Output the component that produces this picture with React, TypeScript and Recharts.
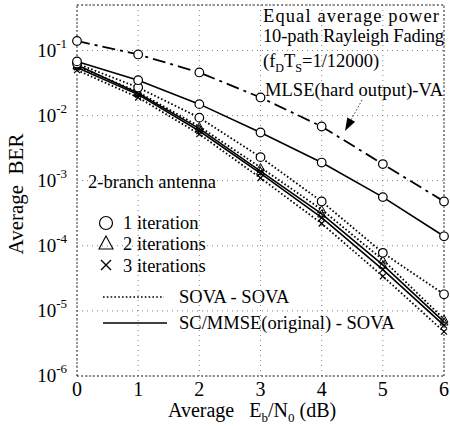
import React from "react";
import {
  LineChart,
  Line,
  XAxis,
  YAxis,
  CartesianGrid,
  ReferenceLine,
} from "recharts";

// Eb/N0 (dB) and BER values
const EBN0 = [0, 1, 2, 3, 4, 5, 6];
const MLSE_VA = [0.14, 0.087, 0.046, 0.019, 0.0068, 0.0018, 0.00048];
const SC_IT1 = [0.068, 0.035, 0.015, 0.0055, 0.0019, 0.00056, 0.00014];
const SOVA_IT1 = [0.063, 0.027, 0.0093, 0.0023, 0.00048, 0.000078, 0.000018];
const SOVA_IT2 = [0.058, 0.023, 0.0068, 0.0016, 0.00036, 0.000061, 0.0000075];
const SC_IT2 = [0.06, 0.022, 0.0063, 0.0014, 0.00031, 0.000051, 0.0000068];
const SC_IT3 = [0.055, 0.021, 0.0058, 0.0013, 0.00027, 0.000043, 0.000006];
const SOVA_IT3 = [0.05, 0.019, 0.0052, 0.0011, 0.00022, 0.000034, 0.0000048];

const Y_TICKS = [1e-6, 1e-5, 1e-4, 1e-3, 1e-2, 1e-1];
const Y_TOP = 0.5;

const data = EBN0.map((x, i) => ({
  x,
  mlse: MLSE_VA[i],
  sc1: SC_IT1[i],
  sova1: SOVA_IT1[i],
  sc2: SC_IT2[i],
  sc3: SC_IT3[i],
  sova2: SOVA_IT2[i],
  sova3: SOVA_IT3[i],
}));

const FONT = "'Liberation Serif', 'DejaVu Serif', serif";
const DOTTED = "1.6 2.2";
const DASHDOT = "13 5 3 5";

function circleDot(p: any) {
  return (
    <circle key={`c-${p.dataKey}-${p.index}`} cx={p.cx} cy={p.cy} r={4.3} fill="#fff" stroke="#000" strokeWidth={1.2} />
  );
}

function triDot(p: any) {
  const s = 4;
  return (
    <path
      key={`t-${p.dataKey}-${p.index}`}
      d={`M${p.cx},${p.cy - s}L${p.cx + s},${p.cy + s * 0.8}L${p.cx - s},${p.cy + s * 0.8}Z`}
      fill="none"
      stroke="#000"
      strokeWidth={1}
    />
  );
}

function crossDot(p: any) {
  const s = 3;
  return (
    <path
      key={`x-${p.dataKey}-${p.index}`}
      d={`M${p.cx - s},${p.cy - s}L${p.cx + s},${p.cy + s}M${p.cx - s},${p.cy + s}L${p.cx + s},${p.cy - s}`}
      stroke="#000"
      strokeWidth={1.2}
    />
  );
}

function YTick({ x, y, payload }: any) {
  const exp = Math.round(Math.log10(payload.value));
  return (
    <text x={x - 10} y={y + 6} textAnchor="end" fontFamily={FONT} fontSize={19} fill="#000">
      <tspan>10</tspan>
      <tspan dy={-9} fontSize={13}>{exp}</tspan>
    </text>
  );
}

function XTick({ x, y, payload }: any) {
  return (
    <text x={x} y={y + 20} textAnchor="middle" fontFamily={FONT} fontSize={20} fill="#000">
      {payload.value}
    </text>
  );
}

function Overlay() {
  const t = { fontFamily: FONT, fontSize: 18.5, fill: "#000" };
  return (
    <svg
      width={450}
      height={429}
      style={{ position: "absolute", left: 0, top: 0, pointerEvents: "none" }}
    >
      <text x={263} y={22} {...t} textLength={176}>Equal average power</text>
      <text x={263} y={42} {...t} textLength={181}>10-path Rayleigh Fading</text>
      <text x={263} y={67} {...t}>
        <tspan>(f</tspan>
        <tspan dy={5} fontSize={12}>D</tspan>
        <tspan dy={-5}>T</tspan>
        <tspan dy={5} fontSize={12}>S</tspan>
        <tspan dy={-5}>=1/12000)</tspan>
      </text>
      <text x={265} y={96} {...t} textLength={178}>MLSE(hard output)-VA</text>
      <line x1={362} y1={100} x2={351} y2={120} stroke="#000" strokeWidth={0.8} strokeDasharray="1.5 2" />
      <polygon points="345,131 355.1,121.8 347.3,117.4" fill="#000" />

      <text x={88} y={188} {...t}>2-branch antenna</text>

      <circle cx={106} cy={223} r={6.5} fill="none" stroke="#000" strokeWidth={1.2} />
      <text x={123} y={229} {...t}>1 iteration</text>
      <path d="M106,236L113,249L99,249Z" fill="none" stroke="#000" strokeWidth={1.1} />
      <text x={123} y={250} {...t}>2 iterations</text>
      <path d="M101,260L111,270M101,270L111,260" stroke="#000" strokeWidth={1.4} />
      <text x={123} y={272} {...t}>3 iterations</text>

      <line x1={103} y1={297} x2={164} y2={297} stroke="#000" strokeWidth={1.6} strokeDasharray={DOTTED} />
      <text x={179} y={303} {...t}>SOVA - SOVA</text>
      <line x1={103} y1={323} x2={167} y2={323} stroke="#000" strokeWidth={1.6} />
      <text x={179} y={329} {...t}>SC/MMSE(original) - SOVA</text>

      <text x={168} y={417} fontFamily={FONT} fontSize={20} fill="#000" style={{ whiteSpace: "pre" }}>
        <tspan>Average   E</tspan>
        <tspan dy={5} fontSize={13}>b</tspan>
        <tspan dy={-5}>/N</tspan>
        <tspan dy={5} fontSize={13}>0</tspan>
        <tspan dy={-5}> (dB)</tspan>
      </text>
      <text
        x={0}
        y={0}
        transform="translate(23,194) rotate(-90)"
        textAnchor="middle"
        fontFamily={FONT}
        fontSize={21}
        fill="#000"
        style={{ whiteSpace: "pre" }}
      >
        Average  BER
      </text>
    </svg>
  );
}

export default function App() {
  return (
    <div style={{ position: "relative", width: 450, height: 429, background: "#fff" }}>
      <style>{"body{margin:0}"}</style>
      <LineChart width={450} height={429} data={data} margin={{ top: 5, right: 6, left: 0, bottom: 0 }}>
        <CartesianGrid stroke="#666" strokeDasharray="1 4" strokeWidth={0.8} />
        <XAxis
          dataKey="x"
          type="number"
          domain={[0, 6]}
          ticks={EBN0}
          height={53}
          tickSize={0}
          tickMargin={0}
          axisLine={false}
          tickLine={false}
          tick={<XTick />}
        />
        <YAxis
          scale="log"
          domain={[1e-6, Y_TOP]}
          allowDataOverflow
          ticks={Y_TICKS}
          width={77}
          tickSize={0}
          tickMargin={0}
          axisLine={false}
          tickLine={false}
          tick={<YTick />}
        />
        <ReferenceLine x={0} stroke="#333" strokeDasharray="2 2" />
        <ReferenceLine x={6} stroke="#333" strokeDasharray="2 2" />
        <ReferenceLine y={1e-6} stroke="#333" strokeDasharray="2 2" />
        <ReferenceLine y={Y_TOP} stroke="#333" strokeDasharray="2 2" />

        <Line dataKey="sova3" stroke="#000" strokeWidth={1.8} strokeDasharray={DOTTED} dot={crossDot} isAnimationActive={false} />
        <Line dataKey="sova2" stroke="#000" strokeWidth={1.8} strokeDasharray={DOTTED} dot={triDot} isAnimationActive={false} />
        <Line dataKey="sc3" stroke="#000" strokeWidth={1.6} dot={crossDot} isAnimationActive={false} />
        <Line dataKey="sc2" stroke="#000" strokeWidth={1.6} dot={triDot} isAnimationActive={false} />
        <Line dataKey="sova1" stroke="#000" strokeWidth={1.8} strokeDasharray={DOTTED} dot={circleDot} isAnimationActive={false} />
        <Line dataKey="sc1" stroke="#000" strokeWidth={1.6} dot={circleDot} isAnimationActive={false} />
        <Line dataKey="mlse" stroke="#000" strokeWidth={1.8} strokeDasharray={DASHDOT} dot={circleDot} isAnimationActive={false} />
      </LineChart>
      <Overlay />
    </div>
  );
}
